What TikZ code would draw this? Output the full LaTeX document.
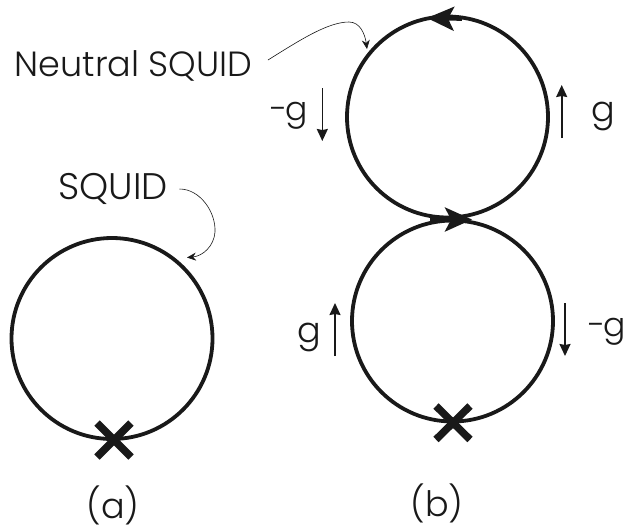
\documentclass[tikz,border=0pt]{standalone}
\usepackage{fontspec}
\setmainfont{Poppins Light}
\usetikzlibrary{positioning, arrows.meta}
\tikzset{
    loopring/.style={circle, draw=black!90, line width=3.8pt, minimum size=201pt, inner sep=0pt},
    lbl/.style={font=\fontsize{35}{40}\selectfont, text=black!90, inner sep=0pt, anchor=base},
    neglbl/.style={lbl, font=\fontsize{33}{40}\selectfont},
    crossmark/.style={line width=7.5pt, color=black!90},
    garrow/.style={-{Stealth[length=12pt, width=11pt, inset=1pt]}, line width=1.6pt, color=black!90},
    callout/.style={-{Stealth[length=9pt, width=8pt]}, line width=0.6pt, color=black!90},
    flowtip/.style={-{Stealth[length=27pt, width=24pt, inset=6pt]}, line width=3.8pt, color=black!90}
}
\begin{document}
\begin{tikzpicture}[x=1pt, y=-1pt]
    \useasboundingbox (0,0) rectangle (627,531);

    % Left loop (a)
    \node[loopring] (ringa) at (112,338.5) {};
    \draw[crossmark] (97,423) -- (131,457);
    \draw[crossmark] (131,423) -- (97,457);
    \node[lbl, font=\fontsize{37}{40}\selectfont] (squidlbl) at (113,199) {SQUID};
    \coordinate (squidstart) at (179.5,189);
    \coordinate (squidend) at (187,257.5);
    \draw[callout] (squidstart) .. controls (200,189) and (216,212) .. (215,232) .. controls (214,246) and (203,256) .. (squidend);
    \node[lbl] (capa) at (113,518) {(a)};

    % Right loops (b)
    \node[loopring] (ringtop) at (447.5,117) {};
    \node[loopring] (ringbot) at (452.5,321) {};
    \draw[crossmark] (436,406) -- (470,439.5);
    \draw[crossmark] (470,406) -- (436,439.5);

    % Flow tips on the rings
    \coordinate (tiptopa) at (462,19);
    \coordinate (tiptopb) at (427,18);
    \draw[flowtip] (tiptopa) -- (tiptopb);
    \coordinate (tipbota) at (430,219.5);
    \coordinate (tipbotb) at (472,219.5);
    \draw[flowtip] (tipbota) -- (tipbotb);

    % Neutral label
    \node[lbl] (neutrallbl) at (133.5,76) {Neutral SQUID};
    \coordinate (neutralstart) at (268,60);
    \coordinate (neutralend) at (367,49);
    \draw[callout] (neutralstart) .. controls (300,40) and (328,22) .. (349,22) .. controls (360,22) and (365,34) .. (neutralend);

    % g arrows
    \coordinate (uplefta) at (322.3,88);
    \coordinate (upleftb) at (322.3,141);
    \draw[garrow] (uplefta) -- (upleftb);
    \node[neglbl] (lblul) at (289,120) {-\kern-2pt g};
    \coordinate (uprighta) at (561.7,138);
    \coordinate (uprightb) at (561.7,85);
    \draw[garrow] (uprighta) -- (uprightb);
    \node[lbl] (lblur) at (603.5,121) {g};
    \coordinate (lowlefta) at (335,356);
    \coordinate (lowleftb) at (335,303);
    \draw[garrow] (lowlefta) -- (lowleftb);
    \node[lbl] (lbllr) at (309,342) {g};
    \coordinate (lowrighta) at (565,303);
    \coordinate (lowrightb) at (565,356);
    \draw[garrow] (lowrighta) -- (lowrightb);
    \node[neglbl] (lblrr) at (607,336) {-\kern-2pt g};
    \node[lbl] (capb) at (437,516) {(b)};
\end{tikzpicture}
\end{document}
